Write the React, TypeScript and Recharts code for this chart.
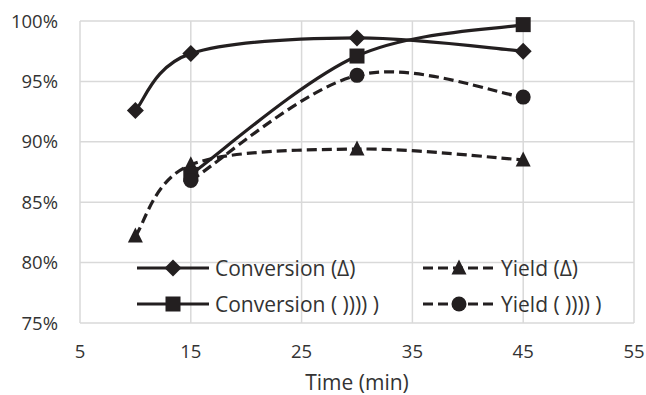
import React from "react";
import {
  LineChart,
  Line,
  XAxis,
  YAxis,
  CartesianGrid,
  Legend,
} from "recharts";

const timesDelta = [10, 15, 30, 45];
const conversionDelta = [92.6, 97.3, 98.6, 97.5];
const yieldDelta = [82.2, 88.1, 89.4, 88.5];

const timesUs = [15, 30, 45];
const conversionUs = [87.3, 97.1, 99.7];
const yieldUs = [86.8, 95.5, 93.7];

const xTicks = [5, 15, 25, 35, 45, 55];
const yTicks = [75, 80, 85, 90, 95, 100];

const seriesNames = ["Conversion (Δ)", "Yield (Δ)", "Conversion ( )))) )", "Yield ( )))) )"];
const seriesShapes = ["diamond", "triangle", "square", "circle"];
const seriesDashed = [false, true, false, true];

const INK = "#231f20";
const TEXT = "#333333";
const FONT = "'Open Sans', sans-serif";

const toRows = (xs: number[], ys: number[]) => xs.map((t, i) => ({ t, v: ys[i] }));

const seriesData = [
  toRows(timesDelta, conversionDelta),
  toRows(timesDelta, yieldDelta),
  toRows(timesUs, conversionUs),
  toRows(timesUs, yieldUs),
];

// Excel-like smoothed line (Catmull-Rom through the points)
const excelSmooth = (context: any) => {
  let pts: [number, number][] = [];
  return {
    areaStart() {},
    areaEnd() {},
    lineStart() {
      pts = [];
    },
    lineEnd() {
      const n = pts.length;
      if (!n) return;
      context.moveTo(pts[0][0], pts[0][1]);
      for (let i = 0; i < n - 1; i++) {
        const p0 = pts[Math.max(i - 1, 0)];
        const p1 = pts[i];
        const p2 = pts[i + 1];
        const p3 = pts[Math.min(i + 2, n - 1)];
        context.bezierCurveTo(
          p1[0] + (p2[0] - p0[0]) / 6,
          p1[1] + (p2[1] - p0[1]) / 6,
          p2[0] - (p3[0] - p1[0]) / 6,
          p2[1] - (p3[1] - p1[1]) / 6,
          p2[0],
          p2[1]
        );
      }
    },
    point(x: number, y: number) {
      pts.push([x, y]);
    },
  };
};

const Marker = ({ shape, cx, cy }: { shape: string; cx: number; cy: number }) => {
  if (shape === "diamond")
    return <polygon points={`${cx},${cy - 8.5} ${cx + 8.5},${cy} ${cx},${cy + 8.5} ${cx - 8.5},${cy}`} fill={INK} />;
  if (shape === "triangle")
    return <polygon points={`${cx},${cy - 8.5} ${cx + 7.5},${cy + 6.5} ${cx - 7.5},${cy + 6.5}`} fill={INK} />;
  if (shape === "square") return <rect x={cx - 7.5} y={cy - 7.5} width={15} height={15} fill={INK} />;
  return <circle cx={cx} cy={cy} r={7.5} fill={INK} />;
};

const renderLegend = () => (
  <div
    style={{
      display: "grid",
      gridTemplateColumns: "286px 220px",
      gridAutoRows: "36px",
      fontFamily: FONT,
      fontSize: 21,
      color: TEXT,
    }}
  >
    {seriesNames.map((name, i) => (
      <div key={name} style={{ display: "flex", alignItems: "center" }}>
        <svg width={72} height={20} style={{ marginRight: 6 }}>
          <line
            x1={0}
            y1={10}
            x2={72}
            y2={10}
            stroke={INK}
            strokeWidth={3.2}
            strokeDasharray={seriesDashed[i] ? "10 5" : undefined}
          />
          <Marker shape={seriesShapes[i]} cx={36} cy={10} />
        </svg>
        <span style={{ whiteSpace: "pre" }}>{name}</span>
      </div>
    ))}
  </div>
);

export default function App() {
  return (
    <div style={{ position: "absolute", left: 0, top: 0, width: 646, height: 395, background: "#fff" }}>
      <LineChart width={646} height={395} margin={{ top: 21, right: 12, left: 0, bottom: 0 }}>
        <CartesianGrid stroke="#d9d9d9" strokeWidth={1.5} />
        <XAxis
          dataKey="t"
          type="number"
          domain={[5, 55]}
          ticks={xTicks}
          allowDuplicatedCategory={false}
          axisLine={false}
          tickLine={false}
          tickSize={0}
          tickMargin={22}
          height={72}
          tick={{ fill: TEXT, fontSize: 18.5, fontFamily: FONT }}
          label={{
            value: "Time (min)",
            position: "insideBottom",
            offset: 5,
            style: { fill: TEXT, fontSize: 21, fontFamily: FONT },
          }}
        />
        <YAxis
          type="number"
          domain={[75, 100]}
          ticks={yTicks}
          width={80}
          axisLine={false}
          tickLine={false}
          tickSize={0}
          tickMargin={22}
          tickFormatter={(v: number) => `${v}%`}
          tick={{ fill: TEXT, fontSize: 18.5, fontFamily: FONT }}
        />
        <Legend
          layout="horizontal"
          verticalAlign="middle"
          align="center"
          content={renderLegend}
          wrapperStyle={{ left: 137, top: 250, width: 510 }}
        />
        {seriesNames.map((name, i) => (
          <Line
            key={name}
            name={name}
            data={seriesData[i]}
            dataKey="v"
            type={excelSmooth as any}
            stroke={INK}
            strokeWidth={3.2}
            strokeDasharray={seriesDashed[i] ? "10 5" : undefined}
            dot={(p: any) => <Marker key={`${name}-${p.index}`} shape={seriesShapes[i]} cx={p.cx} cy={p.cy} />}
            activeDot={false}
            isAnimationActive={false}
          />
        ))}
      </LineChart>
    </div>
  );
}
